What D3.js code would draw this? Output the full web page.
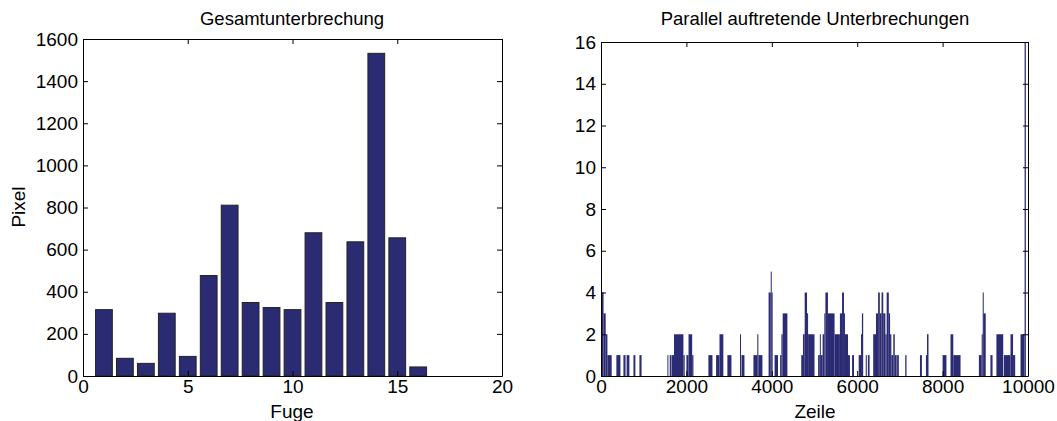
<!DOCTYPE html>
<html>
<head>
<meta charset="utf-8">
<script src="https://cdn.jsdelivr.net/npm/d3@7"></script>
<style>
  body { margin: 0; background: #fff; }
  text { font-family: "Liberation Sans", Arial, sans-serif; fill: #000; }
</style>
</head>
<body>
<div id="chart"></div>
<script>
// left chart: total interruption per joint
const fugen = [1, 2, 3, 4, 5, 6, 7, 8, 9, 10, 11, 12, 13, 14, 15, 16];
const pixel = [315, 84, 60, 298, 93, 477, 811, 349, 325, 315, 680, 349, 637, 1532, 656, 43];
const leftXTicks = [0, 5, 10, 15, 20];
const leftYTicks = [0, 200, 400, 600, 800, 1000, 1200, 1400, 1600];

// right chart: parallel interruptions per row, as runs [fromRow, toRow, count]
const zeileRuns = [
  [0, 60, 4], [60, 110, 3], [110, 150, 2], [150, 250, 1],
  [360, 455, 1], [525, 575, 1], [600, 665, 1], [760, 805, 1], [900, 950, 1],
  [1555, 1575, 1], [1610, 1640, 1], [1650, 1710, 1], [1710, 1930, 2], [1930, 1960, 1],
  [2000, 2050, 1], [2050, 2135, 2], [2135, 2165, 1],
  [2515, 2610, 1], [2695, 2775, 1], [2775, 2865, 2], [2960, 3055, 1],
  [3255, 3275, 2], [3290, 3360, 1],
  [3570, 3660, 1], [3660, 3685, 2], [3685, 3780, 1],
  [3925, 3975, 4], [3975, 3995, 5], [3995, 4020, 4],
  [4065, 4145, 1], [4195, 4225, 1], [4225, 4255, 2], [4255, 4365, 3],
  [4690, 4730, 1], [4730, 4770, 2], [4770, 4825, 4], [4825, 4850, 3], [4850, 5000, 2],
  [5085, 5125, 1], [5125, 5145, 2], [5145, 5190, 1],
  [5190, 5230, 2], [5230, 5255, 3], [5255, 5315, 4], [5315, 5410, 3], [5410, 5470, 3],
  [5470, 5595, 2], [5595, 5645, 3], [5645, 5690, 4], [5690, 5710, 3], [5710, 5785, 2],
  [5785, 5830, 1], [5880, 5925, 1],
  [6035, 6090, 1], [6090, 6110, 2], [6110, 6140, 3], [6200, 6225, 1], [6250, 6290, 1],
  [6375, 6440, 2], [6440, 6490, 3], [6490, 6530, 4], [6530, 6570, 3], [6570, 6610, 4],
  [6610, 6660, 3], [6660, 6690, 2], [6690, 6740, 4], [6740, 6770, 3], [6770, 6800, 2],
  [6800, 6845, 1], [6845, 6880, 2], [6880, 6925, 1], [6935, 6975, 1],
  [7125, 7155, 1], [7470, 7515, 1], [7610, 7635, 1], [7635, 7670, 2],
  [8000, 8090, 1], [8185, 8250, 2], [8250, 8420, 1],
  [8850, 8915, 1], [8915, 8940, 2], [8940, 8955, 4], [8955, 9010, 3],
  [9120, 9170, 1], [9260, 9420, 2], [9435, 9590, 1], [9590, 9650, 2], [9650, 9700, 1],
  [9825, 9920, 2], [9920, 9950, 16]
];
const rightXTicks = [0, 2000, 4000, 6000, 8000, 10000];
const rightYTicks = [0, 2, 4, 6, 8, 10, 12, 14, 16];

const barColor = "#2b2b74";

const svg = d3.select("#chart")
  .append("svg")
    .attr("width", 1057)
    .attr("height", 421);

// draws a matlab style box with inward ticks on all four sides
function drawBox(x, y, xTicks, yTicks) {
  const [x0, x1] = x.range();
  const [y0, y1] = y.range();
  const tick = 5;
  const fmt = d3.format("d");

  svg.append("g")
    .attr("transform", `translate(0,${y0})`)
    .call(d3.axisBottom(x).tickValues(xTicks).tickFormat(fmt).tickSizeInner(-tick).tickSizeOuter(0).tickPadding(4))
    .call(g => g.selectAll("text").style("font-size", "19px"));
  svg.append("g")
    .attr("transform", `translate(0,${y1})`)
    .call(d3.axisTop(x).tickValues(xTicks).tickSizeInner(-tick).tickSizeOuter(0).tickFormat(""));
  svg.append("g")
    .attr("transform", `translate(${x0},0)`)
    .call(d3.axisLeft(y).tickValues(yTicks).tickFormat(fmt).tickSizeInner(-tick).tickSizeOuter(0).tickPadding(5))
    .call(g => g.selectAll("text").style("font-size", "19px"));
  svg.append("g")
    .attr("transform", `translate(${x1},0)`)
    .call(d3.axisRight(y).tickValues(yTicks).tickSizeInner(-tick).tickSizeOuter(0).tickFormat(""));

  svg.selectAll(".domain, .tick line").attr("stroke", "#000");
  svg.selectAll(".tick text").attr("font-family", null);
}

// left chart
const xL = d3.scaleLinear().domain([0, 20]).range([83, 502]);
const yL = d3.scaleLinear().domain([0, 1600]).range([376, 39]);

svg.append("g")
  .selectAll("rect")
  .data(fugen)
  .join("rect")
    .attr("x", (d) => xL(d - 0.4))
    .attr("width", xL(0.8) - xL(0))
    .attr("y", (d, i) => yL(pixel[i]))
    .attr("height", (d, i) => yL(0) - yL(pixel[i]))
    .attr("fill", barColor)
    .attr("stroke", "#222")
    .attr("stroke-width", 1);

drawBox(xL, yL, leftXTicks, leftYTicks);

svg.append("text")
  .attr("x", 292).attr("y", 25)
  .attr("text-anchor", "middle")
  .style("font-size", "18.5px")
  .text("Gesamtunterbrechung");
svg.append("text")
  .attr("x", 292).attr("y", 418)
  .attr("text-anchor", "middle")
  .style("font-size", "19px")
  .text("Fuge");
svg.append("text")
  .attr("transform", "translate(25,207) rotate(-90)")
  .attr("text-anchor", "middle")
  .style("font-size", "19px")
  .text("Pixel");

// right chart
const xR = d3.scaleLinear().domain([0, 10000]).range([601, 1028]);
const yR = d3.scaleLinear().domain([0, 16]).range([376, 42]);

svg.append("g")
  .selectAll("rect")
  .data(zeileRuns)
  .join("rect")
    .attr("x", (d) => xR(d[0]))
    .attr("width", (d) => Math.max(1, xR(d[1]) - xR(d[0])))
    .attr("y", (d) => yR(d[2]))
    .attr("height", (d) => yR(0) - yR(d[2]))
    .attr("fill", barColor);

drawBox(xR, yR, rightXTicks, rightYTicks);

svg.append("text")
  .attr("x", 815).attr("y", 25)
  .attr("text-anchor", "middle")
  .style("font-size", "18.5px")
  .text("Parallel auftretende Unterbrechungen");
svg.append("text")
  .attr("x", 815).attr("y", 418)
  .attr("text-anchor", "middle")
  .style("font-size", "19px")
  .text("Zeile");
</script>
</body>
</html>
